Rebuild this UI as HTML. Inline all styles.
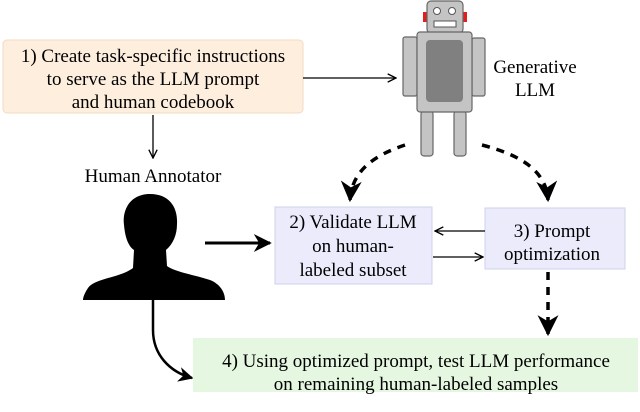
<!DOCTYPE html>
<html><head><style>
body{margin:0;background:#fff;}
svg{display:block;}
text{font-family:"Liberation Serif",serif;}
</style></head><body>
<svg width="640" height="412" viewBox="0 0 640 412" font-family="Liberation Serif, serif">
<defs>
<marker id="a" viewBox="0 0 10 10" refX="9" refY="5" markerWidth="6" markerHeight="6" orient="auto"><path d="M0,0 L10,5 L0,10 L3,5z" fill="#000"/></marker>
<marker id="o" viewBox="0 0 10 10" refX="9" refY="5" markerWidth="8" markerHeight="8" orient="auto"><path d="M1,1 L9,5 L1,9" fill="none" stroke="#000" stroke-width="1.3"/></marker>
</defs>
<rect x="3" y="40" width="300" height="73" rx="4" fill="#fdeede" stroke="#f3d9c2"/>
<g font-size="19" text-anchor="middle" fill="#000" font-family="Liberation Serif, serif">
<text x="153" y="62">1) Create task-specific instructions</text>
<text x="153" y="85">to serve as the LLM prompt</text>
<text x="153" y="108">and human codebook</text>
<text x="535" y="73">Generative</text>
<text x="535" y="96">LLM</text>
<text x="153" y="182">Human Annotator</text>
</g>
<g stroke="#666" stroke-width="1.2">
<rect x="423" y="12" width="5" height="10" fill="#e02020" stroke="none"/>
<rect x="462" y="12" width="5" height="10" fill="#e02020" stroke="none"/>
<rect x="427" y="1" width="36" height="32" rx="4" fill="#c4c4c4"/>
<rect x="403" y="37" width="14" height="59" rx="2" fill="#c4c4c4"/>
<rect x="472" y="38" width="13" height="58" rx="2" fill="#c4c4c4"/>
<rect x="421" y="111" width="12" height="45" rx="3" fill="#c4c4c4"/>
<rect x="454" y="111" width="12" height="45" rx="3" fill="#c4c4c4"/>
<rect x="417" y="32" width="55" height="80" rx="3" fill="#c4c4c4"/>
<rect x="426" y="40" width="37" height="62" rx="4" fill="#808080" stroke="none"/>
</g>
<circle cx="437" cy="11" r="3.5" fill="#fff" stroke="#555"/>
<circle cx="452" cy="11" r="3.5" fill="#fff" stroke="#555"/>
<rect x="434" y="21" width="22" height="6" fill="#fff" stroke="#555"/>
<line x1="303" y1="78" x2="396" y2="78" stroke="#000" stroke-width="1.3" marker-end="url(#o)"/>
<line x1="153" y1="115" x2="153" y2="158" stroke="#000" stroke-width="1.3" marker-end="url(#o)"/>
<path d="M150,194 C130,194 122,210 124,225 C125,235 127,245 134,250 L133,268 C120,278 95,278 88,288 C84,294 83,298 83,300 L225,300 C225,292 220,284 210,280 C195,275 175,272 167,266 L166,250 C173,244 177,235 177,224 C178,208 170,194 150,194Z" fill="#000"/>
<line x1="205" y1="243" x2="270" y2="243" stroke="#000" stroke-width="3" marker-end="url(#a)"/>
<path d="M153,300 L153,330 C153,355 170,372 192,378" fill="none" stroke="#000" stroke-width="2.5" marker-end="url(#a)"/>
<rect x="275" y="207" width="157" height="77" fill="#ebebfb" stroke="#cfd0ec"/>
<rect x="485" y="208" width="140" height="61" fill="#ebebfb" stroke="#cfd0ec"/>
<rect x="193" y="338" width="445" height="54" fill="#e5f7e0"/>
<g font-size="19" text-anchor="middle" fill="#000" font-family="Liberation Serif, serif">
<text x="353" y="228">2) Validate LLM</text>
<text x="353" y="252">on human-</text>
<text x="353" y="276">labeled subset</text>
<text x="552" y="237">3) Prompt</text>
<text x="552" y="260">optimization</text>
<text x="416" y="367">4) Using optimized prompt, test LLM performance</text>
<text x="416" y="390">on remaining human-labeled samples</text>
</g>
<line x1="485" y1="231" x2="435" y2="231" stroke="#000" stroke-width="1.3" marker-end="url(#o)"/>
<line x1="433" y1="257" x2="483" y2="257" stroke="#000" stroke-width="1.3" marker-end="url(#o)"/>
<g fill="none" stroke="#000" stroke-width="3.5" stroke-dasharray="8,7">
<path d="M405,145 C375,155 352,170 350,200" marker-end="url(#a)"/>
<path d="M482,145 C520,155 546,170 548,200" marker-end="url(#a)"/>
<path d="M548,272 L548,334" marker-end="url(#a)"/>
</g>
</svg>
</body></html>
